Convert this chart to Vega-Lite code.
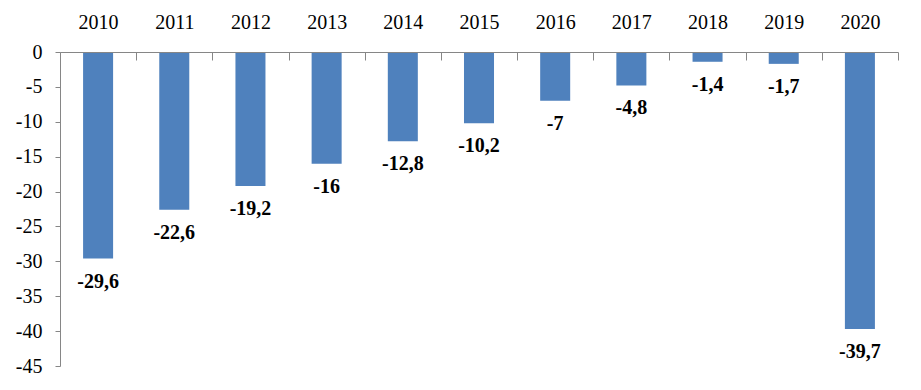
{
  "$schema": "https://vega.github.io/schema/vega-lite/v6.json",
  "width": 838,
  "height": 314,
  "autosize": "none",
  "padding": {"left": 60, "top": 52, "right": 23, "bottom": 24},
  "background": "white",
  "config": {
    "view": {"stroke": null},
    "font": "Liberation Serif",
    "locale": {"number": {"decimal": ",", "thousands": ".", "grouping": [3], "currency": ["", ""], "minus": "-"}}
  },
  "data": {
    "values": [
      {"year": "2010", "value": -29.6},
      {"year": "2011", "value": -22.6},
      {"year": "2012", "value": -19.2},
      {"year": "2013", "value": -16},
      {"year": "2014", "value": -12.8},
      {"year": "2015", "value": -10.2},
      {"year": "2016", "value": -7},
      {"year": "2017", "value": -4.8},
      {"year": "2018", "value": -1.4},
      {"year": "2019", "value": -1.7},
      {"year": "2020", "value": -39.7}
    ]
  },
  "encoding": {
    "x": {
      "field": "year",
      "type": "ordinal",
      "scale": {"paddingInner": 0, "paddingOuter": 0},
      "axis": {
        "orient": "top",
        "title": null,
        "labelAngle": 0,
        "tickBand": "extent",
        "domainColor": "#868686",
        "tickColor": "#868686",
        "tickWidth": 1,
        "tickSize": -8,
        "labelPadding": 28,
        "labelFontSize": 20,
        "labelColor": "#000000",
        "zindex": 1
      }
    },
    "y": {
      "field": "value",
      "type": "quantitative",
      "scale": {"domain": [-45, 0], "nice": false, "zero": false},
      "axis": {
        "title": null,
        "values": [0, -5, -10, -15, -20, -25, -30, -35, -40, -45],
        "grid": false,
        "domainColor": "#868686",
        "tickColor": "#868686",
        "tickSize": 5,
        "labelPadding": 13,
        "labelFontSize": 20,
        "labelColor": "#000000",
        "format": "d"
      }
    }
  },
  "layer": [
    {"mark": {"type": "bar", "color": "#4F81BD", "width": {"band": 0.394}}},
    {
      "mark": {"type": "text", "baseline": "top", "dy": 13, "fontSize": 20, "fontWeight": "bold", "color": "#000000"},
      "encoding": {"text": {"field": "value", "type": "quantitative", "format": ".1~f"}}
    }
  ]
}
